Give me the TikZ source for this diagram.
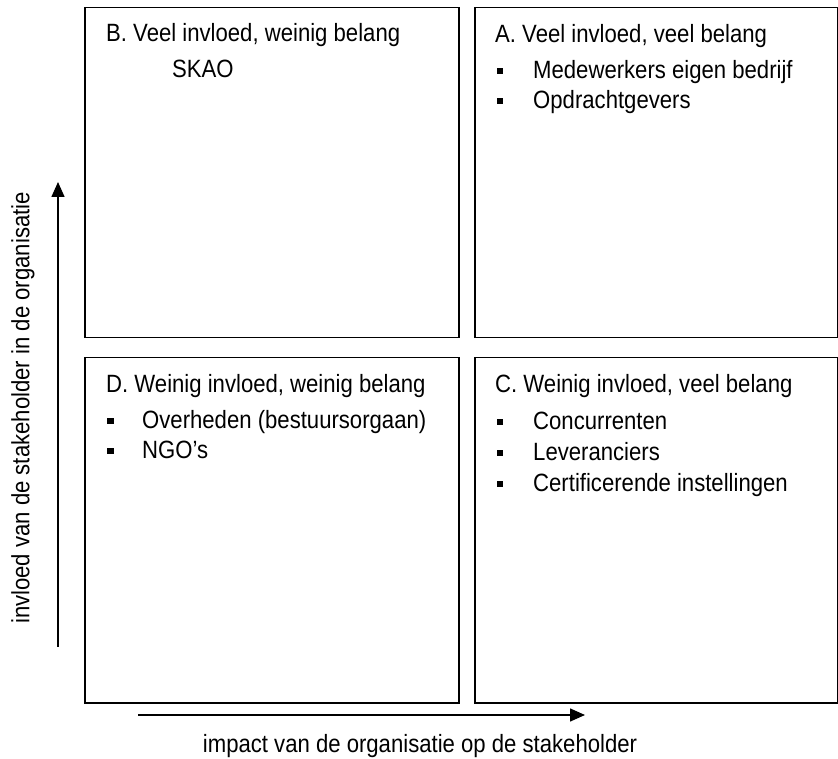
\documentclass[tikz,border=0pt]{standalone}
\usepackage{fontspec}
\setmainfont[FakeStretch=0.885]{Liberation Sans}
\usetikzlibrary{arrows.meta}

\tikzset{
    quad/.style={draw, line width=1.5pt, anchor=north west, inner sep=0pt},
    txt/.style={anchor=base west, inner sep=0pt, font=\fontsize{25pt}{30pt}\selectfont},
    blt/.style={fill, minimum size=6.5pt, inner sep=0pt},
    axis/.style={line width=1.5pt, -{Triangle[length=15pt,width=13pt]}}
}

\begin{document}
\begin{tikzpicture}[x=1pt, y=1pt]
    \useasboundingbox (0,0) rectangle (838,758);

    % Quadrants
    \node[quad, minimum width=374pt, minimum height=330pt] (B) at (84,751) {};
    \node[quad, minimum width=363pt, minimum height=330pt] (A) at (474,751) {};
    \node[quad, minimum width=374pt, minimum height=345pt] (D) at (84,401) {};
    \node[quad, minimum width=363pt, minimum height=345pt] (C) at (474,401) {};

    % Titles
    \node[txt] (Btitle) at (106,716) {B. Veel invloed, weinig belang};
    \node[txt] (skao) at (172,680) {SKAO};
    \node[txt] (Atitle) at (495,715) {A. Veel invloed, veel belang};
    \node[txt] (Dtitle) at (106,365) {D. Weinig invloed, weinig belang};
    \node[txt] (Ctitle) at (495,365) {C. Weinig invloed, veel belang};

    % Bullet items
    \foreach \t [count=\i] in {Medewerkers eigen bedrijf, Opdrachtgevers} {
        \node[blt] (ab\i) at (500, {687-(\i-1)*30}) {};
        \node[txt] (ai\i) at (533, {679-(\i-1)*30}) {\t};
    }
    \foreach \t [count=\i] in {Overheden (bestuursorgaan), NGO’s} {
        \node[blt] (db\i) at (110.5, {337-(\i-1)*30}) {};
        \node[txt] (di\i) at (142, {329-(\i-1)*30}) {\t};
    }
    \foreach \t [count=\i] in {Concurrenten, Leveranciers, Certificerende instellingen} {
        \node[blt] (cb\i) at (500, {336-(\i-1)*31}) {};
        \node[txt] (ci\i) at (533, {328-(\i-1)*31}) {\t};
    }

    % Axes
    \coordinate (vlow) at (58,111);
    \coordinate (vhigh) at (58,576);
    \draw[axis] (vlow) -- (vhigh);
    \coordinate (hleft) at (138,43);
    \coordinate (hright) at (585,43);
    \draw[axis] (hleft) -- (hright);

    \node[txt, anchor=center, rotate=90] (ylab) at (23,350) {invloed van de stakeholder in de organisatie};
    \node[txt, anchor=base] (xlab) at (420,6) {impact van de organisatie op de stakeholder};
\end{tikzpicture}
\end{document}
